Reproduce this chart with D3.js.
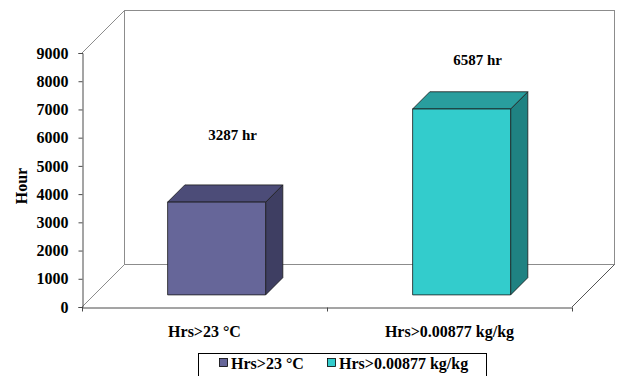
<!DOCTYPE html>
<html>
<head>
<meta charset="utf-8">
<script src="https://cdn.jsdelivr.net/npm/d3@7/dist/d3.min.js"></script>
<style>
  html, body { margin: 0; padding: 0; background: #fff; }
  svg { display: block; font-family: "Liberation Serif", "Times New Roman", serif; font-weight: bold; }
</style>
</head>
<body>
<svg id="chart" width="618" height="376"></svg>
<script>
// Hours above each threshold
const categories = ["Hrs>23 °C", "Hrs>0.00877 kg/kg"];
const hours = [3287, 6587];
const valueLabels = ["3287 hr", "6587 hr"];
const yTicks = [0, 1000, 2000, 3000, 4000, 5000, 6000, 7000, 8000, 9000];
const frontColors = ["#666699", "#33CCCC"];
const topColors = ["#4C4C78", "#299E9E"];
const sideColors = ["#3E3E62", "#1F8282"];

const svg = d3.select("#chart");

// Front plane of the 3-D box
const x = d3.scaleBand().domain(categories).range([82, 572]).paddingInner(0).paddingOuter(0);
const y = d3.scaleLinear().domain([0, 9000]).range([307, 53]);

// Depth projection: t = 0 front plane, t = 1 back wall
const depth = d3.scaleLinear().domain([0, 1]).range([0, 42.5]);
const P = (px, py, t) => [px + depth(t), py - depth(t)];

const wall = "#8c8c8c";
const axisCol = "#4a4a4a";

// Back wall
const [bx0, by0] = P(x.range()[0], y(9000), 1);
const [bx1, by1] = P(x.range()[1], y(0), 1);
svg.append("rect")
  .attr("x", bx0).attr("y", by0)
  .attr("width", bx1 - bx0).attr("height", by1 - by0)
  .attr("fill", "none").attr("stroke", wall).attr("stroke-width", 1);

// Side wall and floor edges
const line = d3.line();
const edges = [
  [P(x.range()[0], y(9000), 0), P(x.range()[0], y(9000), 1)],
  [P(x.range()[0], y(0), 0), P(x.range()[0], y(0), 1)],
  [P(x.range()[1], y(0), 0), P(x.range()[1], y(0), 1)]
];
svg.append("g").selectAll("path").data(edges).join("path")
  .attr("d", d => line(d))
  .attr("fill", "none").attr("stroke", (d, i) => i === 2 ? "#555" : wall).attr("stroke-width", 1);

// Y axis on the front plane
const yAxis = d3.axisLeft(y).tickValues(yTicks).tickSize(4).tickPadding(10).tickFormat(d3.format("d"));
const gy = svg.append("g").attr("transform", "translate(82.5,0)").call(yAxis);
gy.select(".domain").attr("stroke", axisCol);
gy.selectAll(".tick line").attr("stroke", axisCol);
gy.selectAll(".tick text")
  .attr("fill", "#000").attr("font-size", 16)
  .attr("font-family", "Liberation Serif, serif").attr("font-weight", "bold");

// X axis on the front plane
const xAxis = d3.axisBottom(x).tickSize(0).tickPadding(0).tickFormat("");
const gx = svg.append("g").attr("transform", "translate(0,307.5)").call(xAxis);
gx.select(".domain").attr("stroke", axisCol);
gx.selectAll(".tick").remove();
// category separators
const seps = [x.range()[0], x(categories[1]), x.range()[1]];
gx.selectAll("line.sep").data(seps).join("line")
  .attr("class", "sep")
  .attr("x1", d => d + 0.5).attr("x2", d => d + 0.5)
  .attr("y1", 0).attr("y2", 4)
  .attr("stroke", axisCol);

svg.append("g").selectAll("text").data(categories).join("text")
  .attr("x", d => x(d) + x.bandwidth() / 2)
  .attr("y", 337)
  .attr("text-anchor", "middle")
  .attr("font-size", 16)
  .text(d => d);

// Axis title
svg.append("text")
  .attr("transform", "translate(27,186) rotate(-90)")
  .attr("text-anchor", "middle")
  .attr("font-size", 16)
  .text("Hour");

// 3-D bars
const barFront = 0.285, barBack = 0.69;
const barInset = 0.30; // fraction of band left empty on each side
const bars = svg.append("g");
hours.forEach((v, i) => {
  const c = categories[i];
  const xl = x(c) + x.bandwidth() * barInset;
  const xr = x(c) + x.bandwidth() * (1 - barInset);
  const yt = y(v), yb = y(0);
  const f = [P(xl, yt, barFront), P(xr, yt, barFront), P(xr, yb, barFront), P(xl, yb, barFront)];
  const top = [P(xl, yt, barFront), P(xl, yt, barBack), P(xr, yt, barBack), P(xr, yt, barFront)];
  const side = [P(xr, yt, barFront), P(xr, yt, barBack), P(xr, yb, barBack), P(xr, yb, barFront)];
  const stroke = "#1a1a1a";
  bars.append("path").attr("d", line(side) + "Z").attr("fill", sideColors[i]).attr("stroke", stroke).attr("stroke-width", 0.8);
  bars.append("path").attr("d", line(top) + "Z").attr("fill", topColors[i]).attr("stroke", stroke).attr("stroke-width", 0.8);
  bars.append("path").attr("d", line(f) + "Z").attr("fill", frontColors[i]).attr("stroke", stroke).attr("stroke-width", 0.8);
});

// Data labels floating above the bars
const labelY = d3.scaleLinear().domain([0, 9000]).range([215, 10]);
svg.append("g").selectAll("text").data(hours).join("text")
  .attr("x", (d, i) => x(categories[i]) + x.bandwidth() / 2 + depth(0.66))
  .attr("y", d => labelY(d))
  .attr("text-anchor", "middle")
  .attr("font-size", 15)
  .text((d, i) => valueLabels[i]);

// Legend
const legend = svg.append("g");
legend.append("rect")
  .attr("x", 198.5).attr("y", 353.5).attr("width", 288).attr("height", 30)
  .attr("fill", "#fff").attr("stroke", "#000").attr("stroke-width", 1);
const legendX = [219, 327];
categories.forEach((c, i) => {
  legend.append("rect")
    .attr("x", legendX[i] + 0.5).attr("y", 358.5).attr("width", 8).attr("height", 8)
    .attr("fill", frontColors[i]).attr("stroke", "#000").attr("stroke-width", 0.8);
  legend.append("text")
    .attr("x", legendX[i] + 12).attr("y", 369)
    .attr("font-size", 16)
    .text(c);
});
</script>
</body>
</html>
